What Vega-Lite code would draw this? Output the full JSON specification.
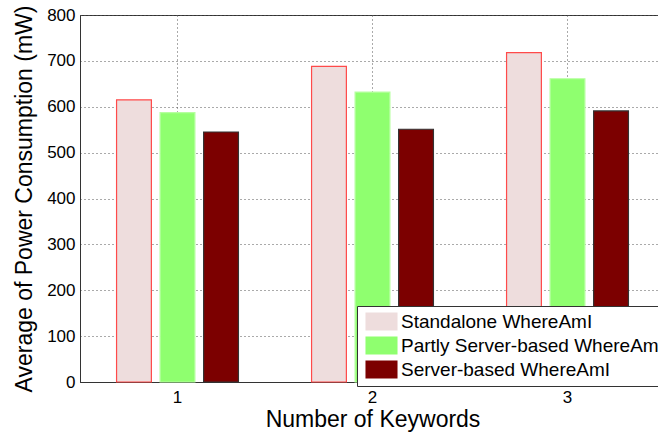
{
  "$schema": "https://vega.github.io/schema/vega-lite/v6.json",
  "autosize": {"type": "none"},
  "width": 585,
  "height": 367,
  "padding": {"left": 80, "top": 15, "right": 0, "bottom": 50},
  "background": "white",
  "config": {
    "font": "Liberation Sans",
    "view": {"stroke": "#333", "strokeWidth": 1}
  },
  "data": {
    "values": [
      {"k": "1", "s": "Standalone WhereAmI", "v": 615},
      {"k": "1", "s": "Partly Server-based WhereAmI", "v": 587},
      {"k": "1", "s": "Server-based WhereAmI", "v": 545},
      {"k": "2", "s": "Standalone WhereAmI", "v": 688},
      {"k": "2", "s": "Partly Server-based WhereAmI", "v": 632},
      {"k": "2", "s": "Server-based WhereAmI", "v": 551},
      {"k": "3", "s": "Standalone WhereAmI", "v": 718},
      {"k": "3", "s": "Partly Server-based WhereAmI", "v": 661},
      {"k": "3", "s": "Server-based WhereAmI", "v": 591}
    ]
  },
  "mark": {"type": "bar", "strokeWidth": 1.2},
  "encoding": {
    "x": {
      "field": "k", "type": "nominal",
      "scale": {"paddingInner": 0, "paddingOuter": 0},
      "axis": {
        "title": "Number of Keywords", "titleFontSize": 23, "titleFontWeight": "normal", "titleColor": "#000", "titlePadding": 3,
        "labelAngle": 0, "labelFontSize": 17, "labelColor": "#000", "labelPadding": 7,
        "ticks": false, "domainColor": "#333",
        "grid": true, "gridDash": [1, 3], "gridColor": "#555", "gridOpacity": 1, "gridWidth": 1
      }
    },
    "xOffset": {
      "field": "s", "type": "nominal",
      "sort": ["Standalone WhereAmI", "Partly Server-based WhereAmI", "Server-based WhereAmI"],
      "scale": {"paddingInner": 0.2, "paddingOuter": 0.84}
    },
    "y": {
      "field": "v", "type": "quantitative",
      "scale": {"domain": [0, 800], "nice": false},
      "axis": {
        "title": "Average of Power Consumption (mW)", "titleFontSize": 23, "titleFontWeight": "normal", "titleColor": "#000", "titlePadding": 10,
        "values": [0, 100, 200, 300, 400, 500, 600, 700, 800],
        "labelFontSize": 17, "labelColor": "#000", "labelPadding": 5,
        "ticks": false, "domainColor": "#333",
        "grid": true, "gridDash": [1, 3], "gridColor": "#555", "gridOpacity": 1, "gridWidth": 1
      }
    },
    "fill": {
      "field": "s", "type": "nominal",
      "sort": ["Standalone WhereAmI", "Partly Server-based WhereAmI", "Server-based WhereAmI"],
      "scale": {"range": ["#EEDDDD", "#8FFF6F", "#7C0000"]},
      "legend": {
        "title": null, "orient": "none", "legendX": 277, "legendY": 291,
        "fillColor": "white", "strokeColor": "#333", "padding": 6,
        "labelFontSize": 19, "labelColor": "#000", "labelLimit": 400,
        "symbolType": "M-2.67,-1.5H2.67V1.5H-2.67Z", "symbolSize": 144, "symbolOpacity": 1,
        "symbolOffset": 9, "symbolStrokeWidth": 1.2, "rowPadding": 4, "labelOffset": 10
      }
    },
    "stroke": {
      "field": "s", "type": "nominal",
      "sort": ["Standalone WhereAmI", "Partly Server-based WhereAmI", "Server-based WhereAmI"],
      "scale": {"range": ["#FF4A4A", "#B6FFA0", "#333333"]}
    }
  }
}
